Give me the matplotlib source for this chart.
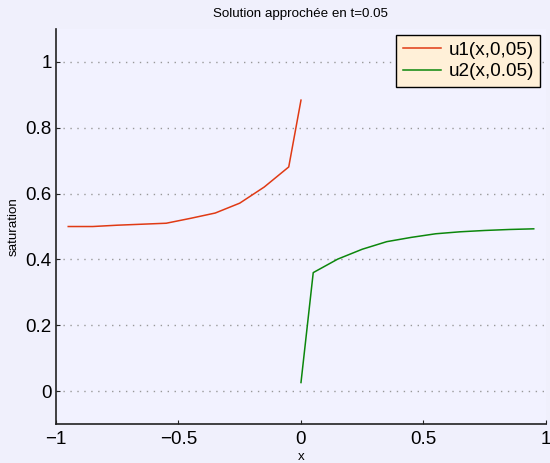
import numpy as np
import matplotlib
matplotlib.use("Agg")
import matplotlib.pyplot as plt

plt.rcParams['font.family'] = ['Liberation Sans', 'DejaVu Sans']

# u1 at t=0.05, left half
x_u1 = [-0.95, -0.85, -0.75, -0.65, -0.55, -0.45, -0.35, -0.25, -0.15, -0.05, 0.0]
u1 = [0.500, 0.500, 0.504, 0.507, 0.510, 0.525, 0.541, 0.571, 0.620, 0.681, 0.884]

# u2 at t=0.05, right half
x_u2 = [0.0, 0.05, 0.15, 0.25, 0.35, 0.45, 0.55, 0.65, 0.75, 0.85, 0.95]
u2 = [0.026, 0.360, 0.401, 0.431, 0.454, 0.467, 0.478, 0.484, 0.488, 0.491, 0.493]

xticks = [-1, -0.5, 0, 0.5, 1]
xticklabels = ['\u22121', '\u22120.5', '0', '0.5', '1']
yticks = [0, 0.2, 0.4, 0.6, 0.8, 1]
yticklabels = ['0', '0.2', '0.4', '0.6', '0.8', '1']

fig = plt.figure(figsize=(5.5, 4.63), dpi=100)
fig.set_facecolor("#f0f0fc")
ax = fig.add_axes([0.1018, 0.0842, 0.8909, 0.8531])
ax.set_facecolor("#f2f2ff")

ax.plot(x_u1, u1, color="#e03a14", lw=1.1, label="u1(x,0,05)")
ax.plot(x_u2, u2, color="#0c870c", lw=1.1, label="u2(x,0.05)")

ax.set_xlim(-1, 1)
ax.set_ylim(-0.1, 1.1)
ax.set_xticks(xticks)
ax.set_xticklabels(xticklabels)
ax.set_yticks(yticks)
ax.set_yticklabels(yticklabels)
ax.tick_params(direction='in', length=3, width=0.8, labelsize=13.5,
               colors='#222222', labelcolor='black')
ax.tick_params(axis='y', pad=3)
ax.tick_params(axis='x', pad=5)

ax.yaxis.grid(True, linestyle=(0, (1, 4)), color='#999999', lw=1.0)
ax.set_axisbelow(True)

for side in ['top', 'right']:
    ax.spines[side].set_visible(False)
for side in ['left', 'bottom']:
    ax.spines[side].set_linewidth(1.2)
    ax.spines[side].set_color('#222222')

ax.set_title("Solution approchée en t=0.05", fontsize=9.6, pad=9)
ax.set_xlabel("x", fontsize=9.6, labelpad=2)
ax.set_ylabel("saturation", fontsize=9.6, labelpad=4)

leg = ax.legend(loc='upper right', fontsize=13.6, fancybox=False,
                framealpha=1, facecolor='#fff0d8', edgecolor='black',
                handlelength=2.0, borderpad=0.35, labelspacing=0.25,
                handletextpad=0.4, borderaxespad=0.3)
leg.get_frame().set_linewidth(1.0)

fig.savefig("out.png", dpi=100, facecolor=fig.get_facecolor())
